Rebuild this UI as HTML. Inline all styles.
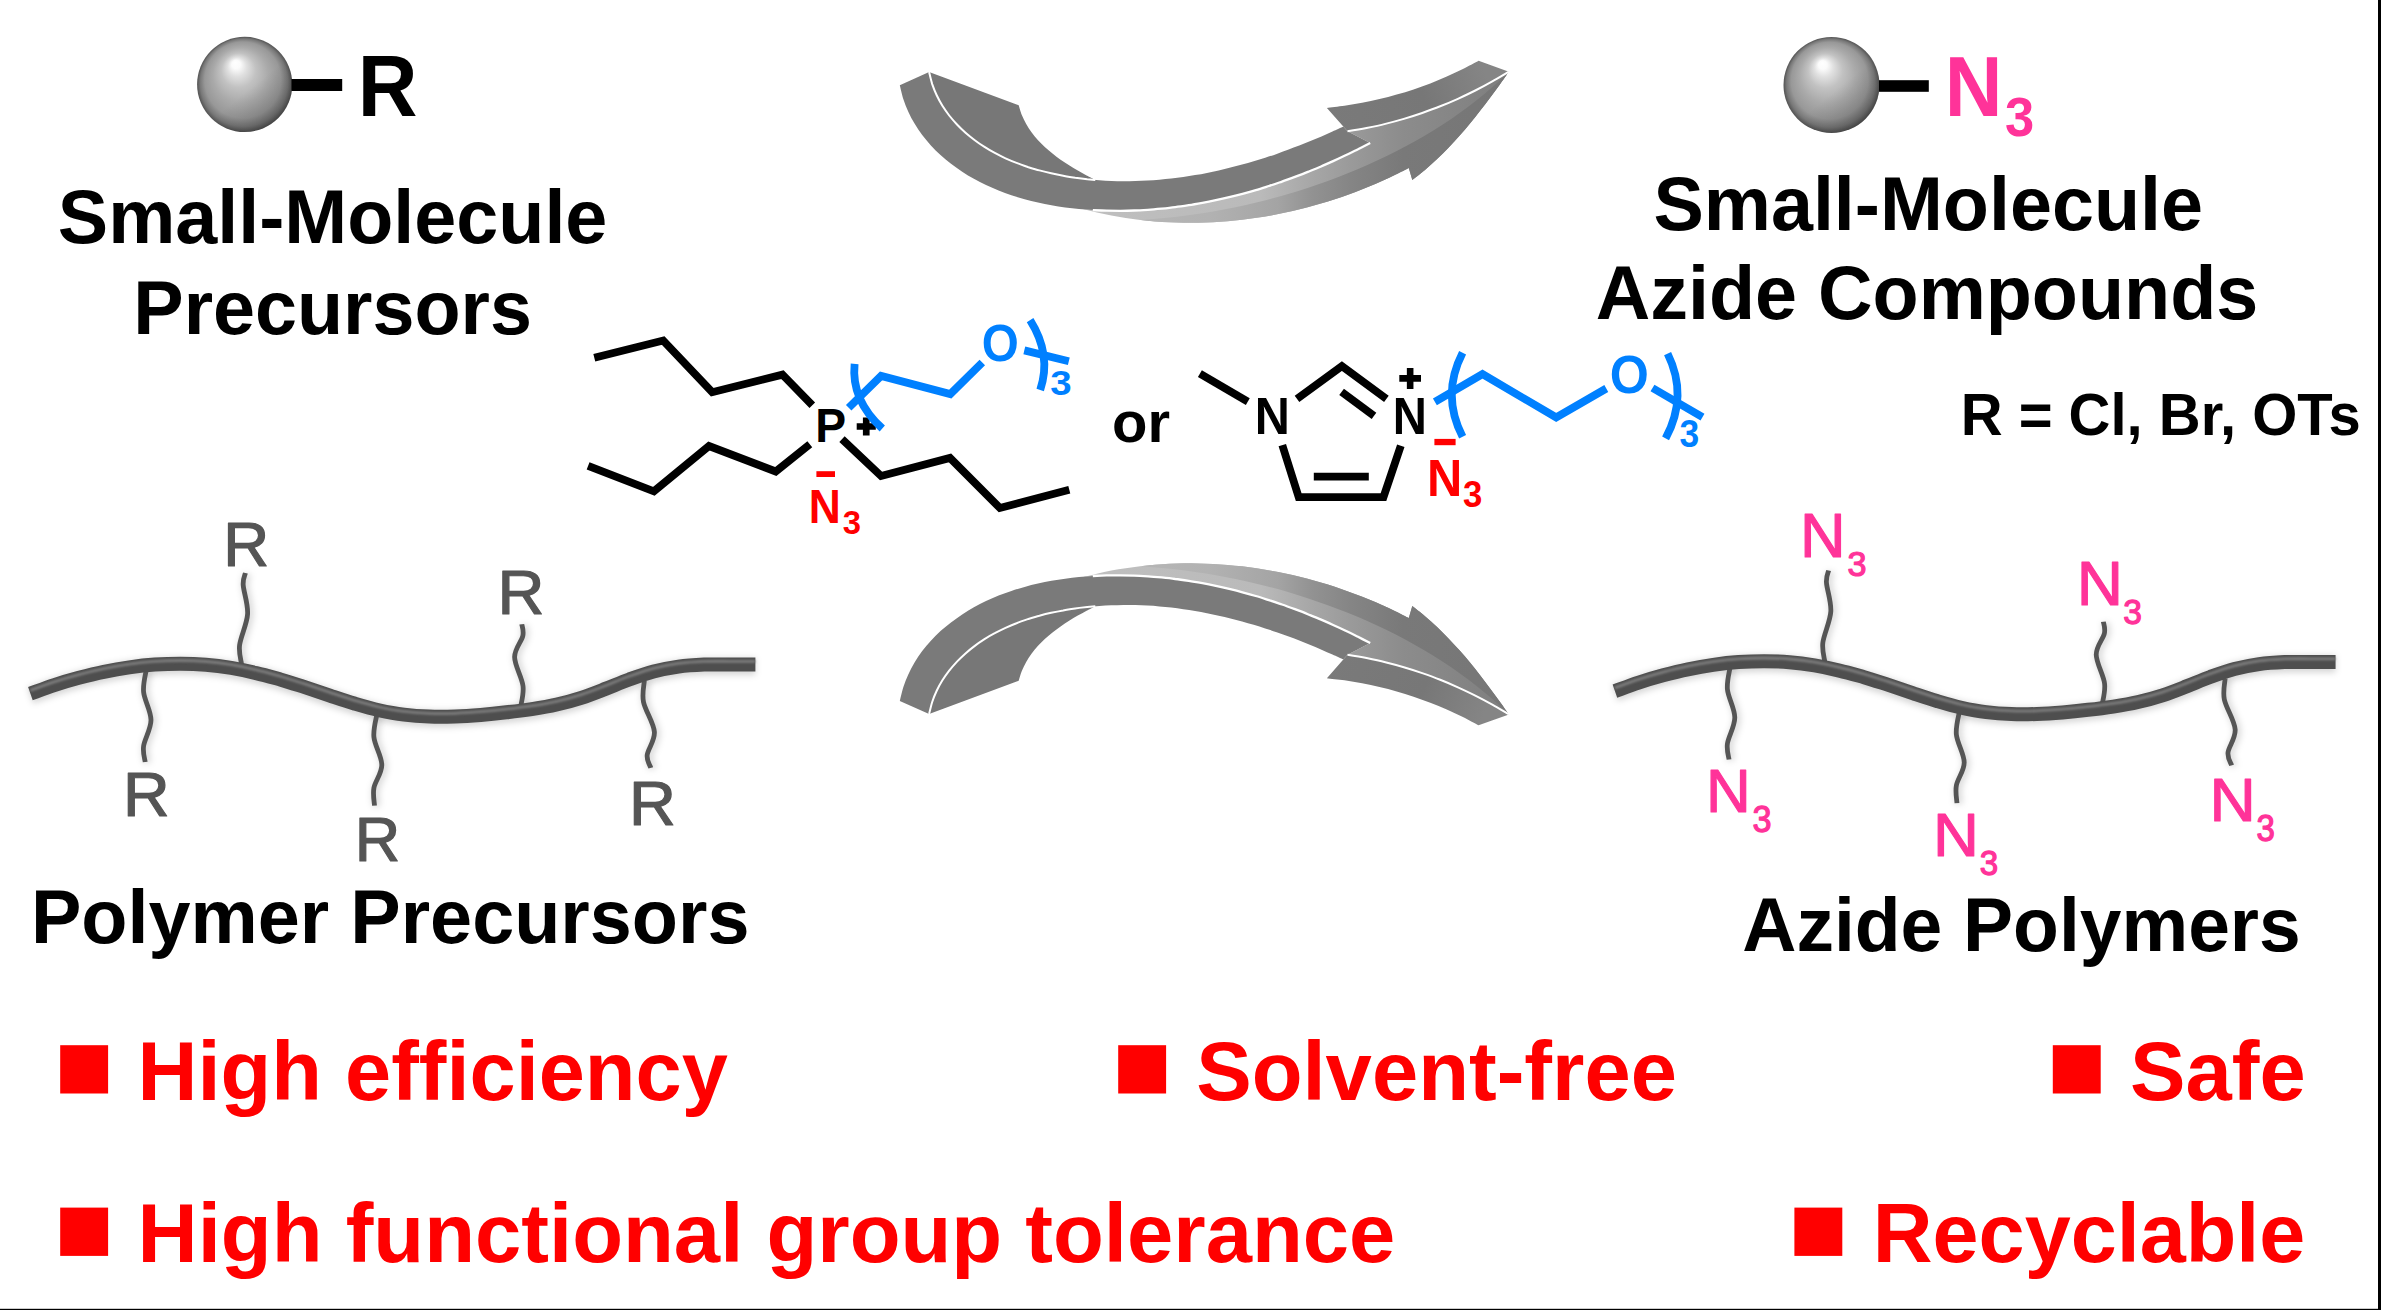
<!DOCTYPE html>
<html>
<head>
<meta charset="utf-8">
<title>Azidation graphical abstract</title>
<style>
html,body{margin:0;padding:0;background:#fff;}
body{width:2381px;height:1310px;overflow:hidden;position:relative;font-family:"Liberation Sans",sans-serif;}
svg{position:absolute;left:0;top:0;display:block;}
text{font-family:"Liberation Sans",sans-serif;}
.bond{fill:none;stroke:#000;stroke-width:7.8;stroke-linejoin:miter;stroke-linecap:butt;}
.bbond{fill:none;stroke:#0080ff;stroke-width:7.8;stroke-linejoin:miter;stroke-linecap:butt;}
</style>
</head>
<body>
<svg width="2381" height="1310" viewBox="0 0 2381 1310">
<defs>
  <radialGradient id="sph" cx="0.5" cy="0.5" r="0.5" fx="0.40" fy="0.27">
    <stop offset="0" stop-color="#ffffff"/>
    <stop offset="0.09" stop-color="#fbfbfb"/>
    <stop offset="0.20" stop-color="#e0e0e0"/>
    <stop offset="0.36" stop-color="#c2c2c2"/>
    <stop offset="0.58" stop-color="#aaaaaa"/>
    <stop offset="0.80" stop-color="#989898"/>
    <stop offset="0.92" stop-color="#787878"/>
    <stop offset="1" stop-color="#525252"/>
  </radialGradient>
  <linearGradient id="sphsh" x1="0.2" y1="0.1" x2="0.85" y2="0.9">
    <stop offset="0" stop-color="#000" stop-opacity="0"/>
    <stop offset="0.55" stop-color="#000" stop-opacity="0"/>
    <stop offset="1" stop-color="#000" stop-opacity="0.20"/>
  </linearGradient>
</defs>
<rect x="2378" y="0" width="3" height="1310" fill="#000"/>
<rect x="0" y="1308.8" width="2381" height="1.2" fill="#000"/>

<g id="spheres">
  <circle cx="244.7" cy="84.4" r="47.6" fill="url(#sph)"/>
  <circle cx="244.7" cy="84.4" r="47.6" fill="url(#sphsh)"/>
  <rect x="291.5" y="79" width="50.7" height="12" fill="#000"/>
  <circle cx="1831.5" cy="85" r="48" fill="url(#sph)"/>
  <circle cx="1831.5" cy="85" r="48" fill="url(#sphsh)"/>
  <rect x="1879" y="80.2" width="49.8" height="11.6" fill="#000"/>
</g>
<g id="headings">
<text transform="translate(357.87,115.50) scale(1,1.0457)" font-size="82.71" font-weight="700" fill="#000" >R</text>
<text transform="translate(332.6,242.8) scale(1,1.012)" font-size="75.5" font-weight="700" fill="#000" text-anchor="middle" >Small-Molecule</text>
<text transform="translate(332.6,333.5) scale(1,1.012)" font-size="75.5" font-weight="700" fill="#000" text-anchor="middle" >Precursors</text>
<text transform="translate(1928.2,229.8) scale(1,1.012)" font-size="75.5" font-weight="700" fill="#000" text-anchor="middle" >Small-Molecule</text>
<text transform="translate(1927,319) scale(1,1.012)" font-size="75.5" font-weight="700" fill="#000" text-anchor="middle" >Azide Compounds</text>
<text transform="translate(2160.7,435) scale(1,1.012)" font-size="58" font-weight="700" fill="#000" text-anchor="middle" >R = Cl, Br, OTs</text>
<text transform="translate(390.2,943) scale(1,1.012)" font-size="75.6" font-weight="700" fill="#000" text-anchor="middle" >Polymer Precursors</text>
<text transform="translate(2021.5,951) scale(1,1.012)" font-size="75" font-weight="700" fill="#000" text-anchor="middle" >Azide Polymers</text>
<text x="1141" y="441.8" font-size="58" font-weight="700" fill="#000" text-anchor="middle" >or</text>
<text transform="translate(1944.65,116.00) scale(1,1.0690)" font-size="79.95" font-weight="700" fill="#ff3399" >N</text>
<text transform="translate(2004.99,135.77) scale(1,1.0737)" font-size="52.51" font-weight="700" fill="#ff3399" >3</text>
</g>
<g id="features">
<rect x="60.2" y="1045.2" width="47.9" height="48.3" fill="#ff0000"/>
<rect x="1118.2" y="1045.2" width="47.9" height="48.3" fill="#ff0000"/>
<rect x="2052.8" y="1045.2" width="47.9" height="48.3" fill="#ff0000"/>
<rect x="60.2" y="1207.6" width="47.9" height="48.3" fill="#ff0000"/>
<rect x="1794.4" y="1207.6" width="47.9" height="48.3" fill="#ff0000"/>
<text transform="translate(137.6,1099.5) scale(1,1.012)" font-size="83" font-weight="700" fill="#ff0000" text-anchor="start" >High efficiency</text>
<text transform="translate(1196.2,1099.5) scale(1,1.012)" font-size="83.2" font-weight="700" fill="#ff0000" text-anchor="start" >Solvent-free</text>
<text transform="translate(2130,1099.5) scale(1,1.012)" font-size="83.2" font-weight="700" fill="#ff0000" text-anchor="start" >Safe</text>
<text transform="translate(137.6,1262.2) scale(1,1.012)" font-size="83.24" font-weight="700" fill="#ff0000" text-anchor="start" >High functional group tolerance</text>
<text transform="translate(1872.8,1262.2) scale(1,1.012)" font-size="82.8" font-weight="700" fill="#ff0000" text-anchor="start" >Recyclable</text>
</g>
<g id="phosphonium">
  <polyline class="bond" points="594.3,357.8 663.2,340.5 712.2,392.2 782.4,374.6 812.3,405.3"/>
  <polyline class="bond" points="588.1,465.8 653.9,491.3 709,446 775.7,471.5 809.8,444.3"/>
  <polyline class="bond" points="842,439.1 881.1,476 950,457.9 999.9,508 1069.3,489.8"/>
  <path d="M856.7,426.5H875.8M866.25,417.6V435.5" stroke="#000" stroke-width="6.7" fill="none"/>
  <rect fill="#ff0000" x="816.4" y="471.2" width="18.6" height="5.8"/>
  <polyline class="bbond" points="848.7,407.8 881.1,375.9 950.3,394.1 982.3,362.5"/>
  <path class="bbond" d="M854.6,363.8 Q851,400 882.3,428.5"/>
  <path class="bbond" d="M1024.3,350.4 L1068.8,361.3"/>
  <path class="bbond" d="M1030.1,320.2 Q1052,355 1040.2,389.9"/>
<text transform="translate(815.20,441.80) scale(1,1.0266)" font-size="46.30" font-weight="700" fill="#000" >P</text>
<text transform="translate(808.83,523.30) scale(1,1.0739)" font-size="44.40" font-weight="700" fill="#ff0000" >N</text>
<text transform="translate(842.65,533.83) scale(1,1.0101)" font-size="32.79" font-weight="700" fill="#ff0000" >3</text>
<text transform="translate(981.65,360.80) scale(1,1.0703)" font-size="47.64" font-weight="700" fill="#0080ff" >O</text>
<text transform="translate(1050.32,395.00) scale(1,0.9354)" font-size="38.43" font-weight="700" fill="#0080ff" >3</text>
</g>
<g id="imidazolium">
  <path class="bond" d="M1199.9,373.7 L1247.8,401.7"/>
  <polyline class="bond" points="1297,398.9 1341.9,366.1 1386.4,398.9"/>
  <path class="bond" d="M1341.6,391.8 L1374,415.8"/>
  <polyline class="bond" points="1282.3,445.1 1298.7,497.1 1383.5,497.1 1400.8,445.7"/>
  <path class="bond" d="M1313.8,476.6 H1368.8"/>
  <path d="M1399.3,378.4H1421M1410.15,367.9V388.9" stroke="#000" stroke-width="6.6" fill="none"/>
  <rect fill="#ff0000" x="1434.4" y="438.9" width="21.2" height="6.3"/>
  <polyline class="bbond" points="1434.9,401.8 1482.5,374.1 1556.2,417.4 1606.3,388.5"/>
  <path class="bbond" d="M1462.6,352.8 Q1441,395 1462.6,436.8"/>
  <path class="bbond" d="M1652.5,388 L1702.5,417.1"/>
  <path class="bbond" d="M1667.6,353.6 Q1688.5,396 1665.6,438.4"/>
<text transform="translate(1254.65,433.60) scale(1,1.0637)" font-size="48.65" font-weight="700" fill="#000" >N</text>
<text transform="translate(1392.74,433.90) scale(1,1.0850)" font-size="47.29" font-weight="700" fill="#000" >N</text>
<text transform="translate(1426.93,496.10) scale(1,1.0510)" font-size="48.82" font-weight="700" fill="#ff0000" >N</text>
<text transform="translate(1463.00,506.88) scale(1,1.0692)" font-size="34.80" font-weight="700" fill="#ff0000" >3</text>
<text transform="translate(1609.64,392.87) scale(1,1.0826)" font-size="50.23" font-weight="700" fill="#0080ff" >O</text>
<text transform="translate(1679.39,447.27) scale(1,1.0708)" font-size="35.41" font-weight="700" fill="#0080ff" >3</text>
</g>
<defs>
  <linearGradient id="agL" gradientUnits="userSpaceOnUse" x1="1080" y1="0" x2="1510" y2="0">
    <stop offset="0" stop-color="#bfbfbf"/><stop offset="0.42" stop-color="#bababa"/><stop offset="0.53" stop-color="#a8a8a8"/><stop offset="0.63" stop-color="#9a9a9a"/><stop offset="0.75" stop-color="#8c8c8c"/><stop offset="0.88" stop-color="#858585"/><stop offset="1" stop-color="#7e7e7e"/>
  </linearGradient>
  <linearGradient id="agD" gradientUnits="userSpaceOnUse" x1="1080" y1="0" x2="1510" y2="0">
    <stop offset="0" stop-color="#b8b8b8"/><stop offset="0.30" stop-color="#b2b2b2"/><stop offset="0.46" stop-color="#a4a4a4"/><stop offset="0.54" stop-color="#929292"/><stop offset="0.63" stop-color="#858585"/><stop offset="0.75" stop-color="#797979"/><stop offset="1" stop-color="#767676"/>
  </linearGradient>
  <linearGradient id="agH" gradientUnits="userSpaceOnUse" x1="1330" y1="130" x2="1480" y2="62">
    <stop offset="0" stop-color="#7a7a7a"/><stop offset="0.6" stop-color="#777777"/><stop offset="1" stop-color="#858585"/>
  </linearGradient>
  <g id="arrow3d">
    <path d="M929.1,72.1 L1018.7,105.3 C1019.2,106.9 1020.6,111.9 1021.8,115.0 C1023.1,118.1 1024.6,121.1 1026.2,124.0 C1027.8,126.9 1029.6,129.7 1031.5,132.3 C1033.5,135.0 1035.6,137.5 1037.8,140.0 C1040.0,142.5 1042.4,144.8 1044.8,147.1 C1047.3,149.4 1049.8,151.5 1052.5,153.6 C1055.1,155.7 1057.8,157.8 1060.6,159.7 C1063.4,161.6 1066.2,163.5 1069.1,165.3 C1072.0,167.1 1074.9,168.8 1077.8,170.5 C1080.7,172.2 1083.7,173.8 1086.6,175.4 C1089.5,176.9 1093.8,179.1 1095.3,179.9 L1085.2,182.2 C1083.2,181.9 1077.2,181.2 1073.2,180.7 C1069.2,180.1 1065.2,179.5 1061.2,178.7 C1057.2,178.0 1053.2,177.2 1049.2,176.3 C1045.3,175.5 1041.3,174.5 1037.4,173.4 C1033.5,172.4 1029.7,171.2 1025.8,170.0 C1022.0,168.7 1018.2,167.4 1014.5,165.9 C1010.8,164.5 1007.1,162.9 1003.5,161.3 C999.8,159.6 996.3,157.8 992.8,155.9 C989.3,154.1 985.9,152.1 982.5,149.9 C979.2,147.8 975.9,145.6 972.8,143.2 C969.6,140.8 966.5,138.3 963.5,135.7 C960.6,133.1 957.7,130.4 955.0,127.5 C952.3,124.6 949.7,121.6 947.2,118.5 C944.8,115.4 942.5,112.1 940.4,108.8 C938.3,105.4 936.4,101.9 934.7,98.3 C933.0,94.7 931.5,90.9 930.2,87.1 C929.0,83.2 927.6,77.1 927.1,75.1 Z" fill="#777777"/>
    <path d="M1092.8,210.1 C1095.1,210.2 1102.0,210.5 1106.6,210.7 C1111.2,210.8 1115.8,210.8 1120.4,210.8 C1125.0,210.8 1129.6,210.7 1134.2,210.5 C1138.8,210.4 1143.4,210.1 1147.9,209.8 C1152.5,209.5 1157.1,209.1 1161.6,208.7 C1166.2,208.2 1170.7,207.7 1175.2,207.1 C1179.8,206.6 1184.3,205.9 1188.8,205.2 C1193.4,204.5 1197.9,203.7 1202.4,202.9 C1206.9,202.1 1211.3,201.2 1215.8,200.2 C1220.3,199.3 1224.8,198.3 1229.2,197.2 C1233.7,196.1 1238.1,195.0 1242.5,193.8 C1247.0,192.6 1251.4,191.4 1255.8,190.1 C1260.2,188.8 1264.5,187.4 1268.9,186.0 C1273.3,184.6 1277.6,183.1 1282.0,181.6 C1286.3,180.1 1290.6,178.5 1294.9,176.9 C1299.2,175.3 1303.5,173.7 1307.8,171.9 C1312.0,170.2 1316.3,168.5 1320.5,166.7 C1324.7,164.9 1328.9,163.0 1333.1,161.1 C1337.3,159.3 1341.5,157.3 1345.6,155.3 C1349.7,153.4 1353.9,151.3 1358.0,149.3 C1362.1,147.2 1368.2,144.0 1370.2,143.0 L1347.5,131.3 L1347.5,131.3 C1350.7,130.8 1360.2,129.3 1366.5,128.1 C1372.8,126.8 1379.0,125.5 1385.3,123.9 C1391.5,122.4 1397.7,120.7 1403.8,118.9 C1410.0,117.1 1416.1,115.1 1422.2,113.0 C1428.2,110.9 1434.3,108.7 1440.2,106.3 C1446.2,103.9 1452.1,101.4 1457.9,98.8 C1463.8,96.1 1469.6,93.4 1475.3,90.5 C1481.1,87.6 1486.7,84.6 1492.3,81.4 C1497.9,78.3 1506.1,73.3 1508.9,71.7 L1508.9,71.7 C1507.3,73.9 1502.7,80.5 1499.5,84.9 C1496.3,89.2 1493.2,93.6 1489.9,97.9 C1486.7,102.2 1483.4,106.6 1480.1,110.8 C1476.8,115.1 1473.4,119.3 1470.0,123.5 C1466.6,127.6 1463.1,131.8 1459.5,135.8 C1455.9,139.8 1452.3,143.8 1448.5,147.7 C1444.8,151.6 1441.0,155.4 1437.1,159.1 C1433.1,162.8 1429.1,166.4 1425.0,169.9 C1420.9,173.4 1414.4,178.3 1412.3,180.0 L1408.8,168.0 C1406.6,169.1 1400.2,172.4 1395.8,174.6 C1391.4,176.7 1387.0,178.8 1382.5,180.8 C1378.1,182.7 1373.6,184.7 1369.1,186.5 C1364.6,188.4 1360.1,190.2 1355.5,191.9 C1351.0,193.7 1346.4,195.3 1341.8,196.9 C1337.2,198.5 1332.5,200.0 1327.9,201.5 C1323.2,202.9 1318.5,204.3 1313.8,205.6 C1309.1,206.9 1304.4,208.2 1299.7,209.3 C1294.9,210.5 1290.2,211.6 1285.4,212.6 C1280.6,213.6 1275.9,214.6 1271.1,215.4 C1266.3,216.3 1261.5,217.1 1256.6,217.8 C1251.8,218.5 1247.0,219.2 1242.1,219.8 C1237.3,220.3 1232.5,220.8 1227.6,221.2 C1222.8,221.6 1217.9,222.0 1213.0,222.2 C1208.2,222.5 1203.3,222.6 1198.4,222.7 C1193.6,222.8 1188.7,222.8 1183.8,222.8 C1179.0,222.7 1174.1,222.5 1169.3,222.3 C1164.4,222.1 1159.5,221.8 1154.7,221.4 C1149.8,221.0 1145.0,220.5 1140.2,219.9 C1135.3,219.3 1130.5,218.7 1125.7,217.9 C1120.9,217.2 1116.1,216.4 1111.3,215.5 C1106.5,214.5 1101.7,213.5 1096.9,212.4 C1092.2,211.3 1085.1,209.5 1082.7,208.9 Z" fill="url(#agL)"/>
    <path d="M1140.6,219.9 C1144.1,219.6 1154.7,218.9 1161.8,218.2 C1168.8,217.6 1175.9,216.8 1182.9,215.9 C1190.0,215.0 1197.0,214.0 1204.0,212.9 C1211.0,211.8 1218.1,210.6 1225.0,209.2 C1232.0,207.9 1239.0,206.5 1245.9,204.9 C1252.9,203.4 1259.8,201.7 1266.7,199.9 C1273.6,198.1 1280.4,196.2 1287.2,194.3 C1294.1,192.3 1300.9,190.1 1307.6,187.9 C1314.4,185.7 1321.1,183.4 1327.8,180.9 C1334.5,178.5 1341.1,175.9 1347.7,173.3 C1354.3,170.6 1360.9,167.8 1367.3,165.0 C1373.8,162.1 1380.3,159.1 1386.7,156.0 C1393.1,152.9 1399.4,149.6 1405.7,146.3 C1411.9,142.9 1418.1,139.5 1424.2,135.9 C1430.4,132.3 1436.4,128.6 1442.4,124.7 C1448.3,120.9 1454.2,116.9 1459.9,112.7 C1465.7,108.6 1471.4,104.4 1476.9,99.9 C1482.5,95.5 1487.9,91.0 1493.3,86.3 C1498.6,81.6 1506.3,74.1 1508.9,71.7 L1508.9,71.7 C1507.3,73.9 1502.7,80.5 1499.5,84.9 C1496.3,89.2 1493.2,93.6 1489.9,97.9 C1486.7,102.2 1483.4,106.6 1480.1,110.8 C1476.8,115.1 1473.4,119.3 1470.0,123.5 C1466.6,127.6 1463.1,131.8 1459.5,135.8 C1455.9,139.8 1452.3,143.8 1448.5,147.7 C1444.8,151.6 1441.0,155.4 1437.1,159.1 C1433.1,162.8 1429.1,166.4 1425.0,169.9 C1420.9,173.4 1414.4,178.3 1412.3,180.0 L1408.8,168.0 C1406.6,169.1 1400.2,172.4 1395.8,174.6 C1391.4,176.7 1387.0,178.8 1382.5,180.8 C1378.1,182.7 1373.6,184.7 1369.1,186.5 C1364.6,188.4 1360.1,190.2 1355.5,191.9 C1351.0,193.7 1346.4,195.3 1341.8,196.9 C1337.2,198.5 1332.5,200.0 1327.9,201.5 C1323.2,202.9 1318.5,204.3 1313.8,205.6 C1309.1,206.9 1304.4,208.2 1299.7,209.3 C1294.9,210.5 1290.2,211.6 1285.4,212.6 C1280.6,213.6 1275.9,214.6 1271.1,215.4 C1266.3,216.3 1261.5,217.1 1256.6,217.8 C1251.8,218.5 1247.0,219.2 1242.1,219.8 C1237.3,220.3 1232.5,220.8 1227.6,221.2 C1222.8,221.6 1217.9,222.0 1213.0,222.2 C1208.2,222.5 1203.3,222.6 1198.4,222.7 C1193.6,222.8 1188.7,222.8 1183.8,222.8 C1179.0,222.7 1174.1,222.5 1169.3,222.3 C1164.4,222.1 1159.5,221.8 1154.7,221.4 C1149.8,221.0 1142.6,220.1 1140.2,219.9 Z" fill="url(#agD)"/>
    <path d="M1326.9,107.9 C1329.8,107.5 1338.7,106.6 1344.5,105.8 C1350.4,104.9 1356.3,103.9 1362.1,102.8 C1367.9,101.7 1373.7,100.5 1379.5,99.1 C1385.2,97.8 1391.0,96.3 1396.7,94.6 C1402.3,93.0 1408.0,91.3 1413.6,89.4 C1419.2,87.5 1424.8,85.5 1430.3,83.4 C1435.9,81.3 1441.3,79.0 1446.8,76.6 C1452.2,74.2 1457.6,71.7 1462.9,69.1 C1468.2,66.4 1476.0,62.2 1478.6,60.8 L1508.9,71.7 L1508.9,71.7 C1506.1,73.3 1497.9,78.3 1492.3,81.4 C1486.7,84.6 1481.1,87.6 1475.3,90.5 C1469.6,93.4 1463.8,96.1 1457.9,98.8 C1452.1,101.4 1446.2,103.9 1440.2,106.3 C1434.3,108.7 1428.2,110.9 1422.2,113.0 C1416.1,115.1 1410.0,117.1 1403.8,118.9 C1397.7,120.7 1391.5,122.4 1385.3,123.9 C1379.0,125.5 1372.8,126.8 1366.5,128.1 C1360.2,129.3 1350.7,130.8 1347.5,131.3 L1343.3,126.5 Z" fill="url(#agH)"/>
    <path d="M899.8,85.2 C900.4,87.5 901.9,94.4 903.3,98.9 C904.7,103.3 906.4,107.6 908.3,111.7 C910.2,115.9 912.3,119.9 914.7,123.8 C917.0,127.6 919.5,131.4 922.2,135.0 C925.0,138.6 927.9,142.1 930.9,145.4 C934.0,148.7 937.2,151.9 940.5,155.0 C943.9,158.0 947.4,160.9 951.0,163.7 C954.6,166.5 958.4,169.2 962.2,171.7 C966.0,174.2 969.9,176.5 973.9,178.8 C977.9,181.0 981.9,183.1 986.0,185.0 C990.2,187.0 994.3,188.8 998.6,190.5 C1002.8,192.2 1007.1,193.8 1011.4,195.2 C1015.8,196.7 1020.2,198.0 1024.6,199.2 C1029.0,200.5 1033.5,201.6 1038.0,202.6 C1042.5,203.6 1047.0,204.5 1051.5,205.3 C1056.1,206.1 1060.6,206.8 1065.2,207.4 C1069.8,208.0 1074.4,208.5 1079.0,209.0 C1083.6,209.4 1088.2,209.8 1092.8,210.1 C1097.4,210.3 1102.0,210.5 1106.6,210.7 C1111.2,210.8 1115.8,210.8 1120.4,210.8 C1125.0,210.8 1129.6,210.7 1134.2,210.5 C1138.8,210.4 1143.4,210.1 1147.9,209.8 C1152.5,209.5 1157.1,209.1 1161.6,208.7 C1166.2,208.2 1170.7,207.7 1175.2,207.1 C1179.8,206.6 1184.3,205.9 1188.8,205.2 C1193.4,204.5 1197.9,203.7 1202.4,202.9 C1206.9,202.1 1211.3,201.2 1215.8,200.2 C1220.3,199.3 1224.8,198.3 1229.2,197.2 C1233.7,196.1 1238.1,195.0 1242.5,193.8 C1247.0,192.6 1251.4,191.4 1255.8,190.1 C1260.2,188.8 1264.5,187.4 1268.9,186.0 C1273.3,184.6 1277.6,183.1 1282.0,181.6 C1286.3,180.1 1290.6,178.5 1294.9,176.9 C1299.2,175.3 1303.5,173.7 1307.8,171.9 C1312.0,170.2 1316.3,168.5 1320.5,166.7 C1324.7,164.9 1328.9,163.0 1333.1,161.1 C1337.3,159.3 1341.5,157.3 1345.6,155.3 C1349.7,153.4 1353.9,151.3 1358.0,149.3 C1362.1,147.2 1368.2,144.0 1370.2,143.0 L1347.5,131.3 L1343.3,126.5 L1343.3,126.5 C1341.5,127.3 1336.1,129.9 1332.5,131.5 C1328.8,133.2 1325.2,134.8 1321.5,136.4 C1317.8,138.0 1314.1,139.5 1310.4,141.1 C1306.7,142.6 1303.0,144.1 1299.3,145.6 C1295.5,147.0 1291.8,148.4 1288.0,149.8 C1284.2,151.2 1280.5,152.6 1276.7,153.9 C1272.9,155.2 1269.1,156.5 1265.2,157.7 C1261.4,158.9 1257.6,160.1 1253.7,161.3 C1249.9,162.4 1246.0,163.5 1242.1,164.6 C1238.2,165.7 1234.4,166.7 1230.5,167.6 C1226.6,168.6 1222.7,169.5 1218.7,170.4 C1214.8,171.3 1210.9,172.1 1207.0,172.9 C1203.0,173.7 1199.1,174.4 1195.1,175.1 C1191.2,175.8 1187.2,176.4 1183.3,176.9 C1179.3,177.5 1175.3,178.0 1171.3,178.5 C1167.4,178.9 1163.4,179.3 1159.4,179.7 C1155.4,180.0 1151.4,180.3 1147.4,180.5 C1143.4,180.8 1139.4,180.9 1135.4,181.0 C1131.4,181.1 1127.4,181.2 1123.4,181.2 C1119.4,181.1 1115.3,181.0 1111.3,180.9 C1107.3,180.7 1103.3,180.5 1099.3,180.2 C1095.3,179.9 1091.2,179.6 1087.2,179.2 C1083.2,178.7 1079.2,178.2 1075.2,177.7 C1071.2,177.1 1067.2,176.5 1063.2,175.7 C1059.2,175.0 1055.2,174.2 1051.2,173.3 C1047.3,172.5 1043.3,171.5 1039.4,170.4 C1035.5,169.4 1031.7,168.2 1027.8,167.0 C1024.0,165.7 1020.2,164.4 1016.5,162.9 C1012.8,161.5 1009.1,159.9 1005.5,158.3 C1001.8,156.6 998.3,154.8 994.8,152.9 C991.3,151.1 987.9,149.1 984.5,146.9 C981.2,144.8 977.9,142.6 974.8,140.2 C971.6,137.8 968.5,135.3 965.5,132.7 C962.6,130.1 959.7,127.4 957.0,124.5 C954.3,121.6 951.7,118.6 949.2,115.5 C946.8,112.4 944.5,109.1 942.4,105.8 C940.3,102.4 938.4,98.9 936.7,95.3 C935.0,91.7 933.5,87.9 932.2,84.1 C931.0,80.2 929.6,74.1 929.1,72.1 Z" fill="#7a7a7a"/>
    <path d="M929.1,72.1 C929.6,74.1 931.0,80.2 932.2,84.1 C933.5,87.9 935.0,91.7 936.7,95.3 C938.4,98.9 940.3,102.4 942.4,105.8 C944.5,109.1 946.8,112.4 949.2,115.5 C951.7,118.6 954.3,121.6 957.0,124.5 C959.7,127.4 962.6,130.1 965.5,132.7 C968.5,135.3 971.6,137.8 974.8,140.2 C977.9,142.6 981.2,144.8 984.5,146.9 C987.9,149.1 991.3,151.1 994.8,152.9 C998.3,154.8 1001.8,156.6 1005.5,158.3 C1009.1,159.9 1012.8,161.5 1016.5,162.9 C1020.2,164.4 1024.0,165.7 1027.8,167.0 C1031.7,168.2 1035.5,169.4 1039.4,170.4 C1043.3,171.5 1047.3,172.5 1051.2,173.3 C1055.2,174.2 1059.2,175.0 1063.2,175.7 C1067.2,176.5 1071.2,177.1 1075.2,177.7 C1079.2,178.2 1083.9,178.8 1087.2,179.2 C1090.6,179.5 1094.0,179.8 1095.3,179.9" fill="none" stroke="#fff" stroke-width="2"/>
    <path d="M1092.8,210.1 C1095.1,210.2 1102.0,210.5 1106.6,210.7 C1111.2,210.8 1115.8,210.8 1120.4,210.8 C1125.0,210.8 1129.6,210.7 1134.2,210.5 C1138.8,210.4 1143.4,210.1 1147.9,209.8 C1152.5,209.5 1157.1,209.1 1161.6,208.7 C1166.2,208.2 1170.7,207.7 1175.2,207.1 C1179.8,206.6 1184.3,205.9 1188.8,205.2 C1193.4,204.5 1197.9,203.7 1202.4,202.9 C1206.9,202.1 1211.3,201.2 1215.8,200.2 C1220.3,199.3 1224.8,198.3 1229.2,197.2 C1233.7,196.1 1238.1,195.0 1242.5,193.8 C1247.0,192.6 1251.4,191.4 1255.8,190.1 C1260.2,188.8 1264.5,187.4 1268.9,186.0 C1273.3,184.6 1277.6,183.1 1282.0,181.6 C1286.3,180.1 1290.6,178.5 1294.9,176.9 C1299.2,175.3 1303.5,173.7 1307.8,171.9 C1312.0,170.2 1316.3,168.5 1320.5,166.7 C1324.7,164.9 1328.9,163.0 1333.1,161.1 C1337.3,159.3 1341.5,157.3 1345.6,155.3 C1349.7,153.4 1353.9,151.3 1358.0,149.3 C1362.1,147.2 1368.2,144.0 1370.2,143.0" fill="none" stroke="#fff" stroke-width="2.3"/>
    <path d="M1347.5,131.3 C1350.7,130.8 1360.2,129.3 1366.5,128.1 C1372.8,126.8 1379.0,125.5 1385.3,123.9 C1391.5,122.4 1397.7,120.7 1403.8,118.9 C1410.0,117.1 1416.1,115.1 1422.2,113.0 C1428.2,110.9 1434.3,108.7 1440.2,106.3 C1446.2,103.9 1452.1,101.4 1457.9,98.8 C1463.8,96.1 1469.6,93.4 1475.3,90.5 C1481.1,87.6 1486.7,84.6 1492.3,81.4 C1497.9,78.3 1506.1,73.3 1508.9,71.7" fill="none" stroke="#fff" stroke-width="2"/>
  </g>
</defs>
<use href="#arrow3d"/>
<use href="#arrow3d" transform="translate(0,786.1) scale(1,-1)"/>

<defs>
  <filter id="pblur" x="-5%" y="-50%" width="110%" height="200%"><feGaussianBlur stdDeviation="3"/></filter>
  <filter id="hblur" x="-5%" y="-50%" width="110%" height="200%"><feGaussianBlur stdDeviation="1"/></filter>
  <g id="poly">
    <path d="M30.4,693.6 C34.4,692.2 46.3,687.7 54.3,685.1 C62.4,682.4 70.6,680.0 78.9,677.8 C87.2,675.6 95.5,673.5 103.9,671.8 C112.3,670.1 120.8,668.6 129.3,667.4 C137.8,666.2 146.3,665.2 154.8,664.6 C163.4,664.0 171.9,663.7 180.4,663.7 C188.9,663.7 197.5,664.0 205.9,664.7 C214.4,665.4 222.8,666.5 231.2,667.9 C239.6,669.3 247.9,671.1 256.2,673.1 C264.5,675.0 272.7,677.4 281.0,679.7 C289.2,682.1 297.3,684.8 305.5,687.4 C313.7,690.1 321.8,692.9 329.9,695.6 C338.0,698.3 346.1,701.1 354.3,703.5 C362.5,705.9 370.6,708.3 378.9,710.2 C387.1,712.0 395.5,713.6 403.9,714.6 C412.3,715.7 420.8,716.3 429.3,716.6 C437.8,716.9 446.4,716.8 455.0,716.5 C463.5,716.2 472.2,715.6 480.7,714.9 C489.3,714.2 497.9,713.3 506.4,712.3 C514.9,711.4 523.4,710.4 531.8,709.1 C540.2,707.8 548.6,706.4 556.8,704.5 C565.1,702.6 573.3,700.4 581.3,697.8 C589.4,695.2 597.4,692.0 605.4,688.9 C613.4,685.8 621.3,682.4 629.3,679.5 C637.3,676.6 645.4,673.6 653.6,671.5 C661.8,669.4 670.1,667.8 678.5,666.6 C686.9,665.5 695.5,665.0 704.1,664.6 C712.6,664.3 721.3,664.5 729.8,664.5 C738.4,664.5 751.1,664.5 755.4,664.5" fill="none" stroke="#000" stroke-opacity="0.16" stroke-width="17" filter="url(#pblur)" transform="translate(0,2)"/>
    <path d="M241.5,664.0 C241.2,660.8 238.6,653.3 239.6,645.0 C240.6,636.7 247.0,624.0 247.6,614.0 C248.2,604.0 243.6,591.8 243.2,585.0 C242.8,578.2 245.0,575.0 245.4,573.0 M520.6,707.0 C521.0,703.5 524.0,694.3 523.0,686.0 C522.0,677.7 514.6,665.3 514.6,657.0 C514.6,648.7 521.6,641.5 522.8,636.0 C524.0,630.5 522.0,626.2 521.8,624.2 M146.2,670.0 C145.8,673.7 142.8,683.7 143.6,692.0 C144.4,700.3 151.0,711.0 151.0,720.0 C151.0,729.0 144.6,739.0 143.6,746.0 C142.6,753.0 144.9,759.3 145.2,762.0 M377.2,713.0 C376.6,717.0 373.1,728.3 373.9,737.0 C374.7,745.7 381.8,756.5 381.8,765.0 C381.8,773.5 375.1,781.2 373.9,788.0 C372.7,794.8 374.4,802.7 374.5,805.6 M644.3,681.0 C644.2,684.5 641.8,693.5 643.5,702.0 C645.2,710.5 653.8,723.2 654.4,732.0 C655.0,740.8 647.8,749.0 647.2,755.0 C646.6,761.0 650.2,765.7 650.8,767.8" fill="none" stroke="#000" stroke-opacity="0.14" stroke-width="8" filter="url(#pblur)" transform="translate(2,1)"/>
    <path d="M241.5,664.0 C241.2,660.8 238.6,653.3 239.6,645.0 C240.6,636.7 247.0,624.0 247.6,614.0 C248.2,604.0 243.6,591.8 243.2,585.0 C242.8,578.2 245.0,575.0 245.4,573.0 M520.6,707.0 C521.0,703.5 524.0,694.3 523.0,686.0 C522.0,677.7 514.6,665.3 514.6,657.0 C514.6,648.7 521.6,641.5 522.8,636.0 C524.0,630.5 522.0,626.2 521.8,624.2 M146.2,670.0 C145.8,673.7 142.8,683.7 143.6,692.0 C144.4,700.3 151.0,711.0 151.0,720.0 C151.0,729.0 144.6,739.0 143.6,746.0 C142.6,753.0 144.9,759.3 145.2,762.0 M377.2,713.0 C376.6,717.0 373.1,728.3 373.9,737.0 C374.7,745.7 381.8,756.5 381.8,765.0 C381.8,773.5 375.1,781.2 373.9,788.0 C372.7,794.8 374.4,802.7 374.5,805.6 M644.3,681.0 C644.2,684.5 641.8,693.5 643.5,702.0 C645.2,710.5 653.8,723.2 654.4,732.0 C655.0,740.8 647.8,749.0 647.2,755.0 C646.6,761.0 650.2,765.7 650.8,767.8" fill="none" stroke="#555555" stroke-width="4.8"/>
    <path d="M30.4,693.6 C34.4,692.2 46.3,687.7 54.3,685.1 C62.4,682.4 70.6,680.0 78.9,677.8 C87.2,675.6 95.5,673.5 103.9,671.8 C112.3,670.1 120.8,668.6 129.3,667.4 C137.8,666.2 146.3,665.2 154.8,664.6 C163.4,664.0 171.9,663.7 180.4,663.7 C188.9,663.7 197.5,664.0 205.9,664.7 C214.4,665.4 222.8,666.5 231.2,667.9 C239.6,669.3 247.9,671.1 256.2,673.1 C264.5,675.0 272.7,677.4 281.0,679.7 C289.2,682.1 297.3,684.8 305.5,687.4 C313.7,690.1 321.8,692.9 329.9,695.6 C338.0,698.3 346.1,701.1 354.3,703.5 C362.5,705.9 370.6,708.3 378.9,710.2 C387.1,712.0 395.5,713.6 403.9,714.6 C412.3,715.7 420.8,716.3 429.3,716.6 C437.8,716.9 446.4,716.8 455.0,716.5 C463.5,716.2 472.2,715.6 480.7,714.9 C489.3,714.2 497.9,713.3 506.4,712.3 C514.9,711.4 523.4,710.4 531.8,709.1 C540.2,707.8 548.6,706.4 556.8,704.5 C565.1,702.6 573.3,700.4 581.3,697.8 C589.4,695.2 597.4,692.0 605.4,688.9 C613.4,685.8 621.3,682.4 629.3,679.5 C637.3,676.6 645.4,673.6 653.6,671.5 C661.8,669.4 670.1,667.8 678.5,666.6 C686.9,665.5 695.5,665.0 704.1,664.6 C712.6,664.3 721.3,664.5 729.8,664.5 C738.4,664.5 751.1,664.5 755.4,664.5" fill="none" stroke="#4e4e4e" stroke-width="14"/>
    <path d="M30.4,693.6 C34.4,692.2 46.3,687.7 54.3,685.1 C62.4,682.4 70.6,680.0 78.9,677.8 C87.2,675.6 95.5,673.5 103.9,671.8 C112.3,670.1 120.8,668.6 129.3,667.4 C137.8,666.2 146.3,665.2 154.8,664.6 C163.4,664.0 171.9,663.7 180.4,663.7 C188.9,663.7 197.5,664.0 205.9,664.7 C214.4,665.4 222.8,666.5 231.2,667.9 C239.6,669.3 247.9,671.1 256.2,673.1 C264.5,675.0 272.7,677.4 281.0,679.7 C289.2,682.1 297.3,684.8 305.5,687.4 C313.7,690.1 321.8,692.9 329.9,695.6 C338.0,698.3 346.1,701.1 354.3,703.5 C362.5,705.9 370.6,708.3 378.9,710.2 C387.1,712.0 395.5,713.6 403.9,714.6 C412.3,715.7 420.8,716.3 429.3,716.6 C437.8,716.9 446.4,716.8 455.0,716.5 C463.5,716.2 472.2,715.6 480.7,714.9 C489.3,714.2 497.9,713.3 506.4,712.3 C514.9,711.4 523.4,710.4 531.8,709.1 C540.2,707.8 548.6,706.4 556.8,704.5 C565.1,702.6 573.3,700.4 581.3,697.8 C589.4,695.2 597.4,692.0 605.4,688.9 C613.4,685.8 621.3,682.4 629.3,679.5 C637.3,676.6 645.4,673.6 653.6,671.5 C661.8,669.4 670.1,667.8 678.5,666.6 C686.9,665.5 695.5,665.0 704.1,664.6 C712.6,664.3 721.3,664.5 729.8,664.5 C738.4,664.5 751.1,664.5 755.4,664.5" fill="none" stroke="#858585" stroke-opacity="0.85" stroke-width="2.8" filter="url(#hblur)" transform="translate(0,-3.2)"/>
  </g>
</defs>
<use href="#poly"/>
<use href="#poly" transform="matrix(0.994,0,0,1,1584.7,-2.5)"/>

<g id="polylabels">
<text transform="translate(223.18,566.20) scale(1,0.9909)" font-size="63.66" font-weight="400" fill="#555555" stroke="#555555" stroke-width="1.2" stroke-linejoin="round">R</text>
<text transform="translate(497.47,614.30) scale(1,0.9636)" font-size="65.01" font-weight="400" fill="#555555" stroke="#555555" stroke-width="1.2" stroke-linejoin="round">R</text>
<text transform="translate(123.09,816.30) scale(1,0.9821)" font-size="64.67" font-weight="400" fill="#555555" stroke="#555555" stroke-width="1.2" stroke-linejoin="round">R</text>
<text transform="translate(354.73,861.20) scale(1,0.9969)" font-size="62.99" font-weight="400" fill="#555555" stroke="#555555" stroke-width="1.2" stroke-linejoin="round">R</text>
<text transform="translate(628.97,825.10) scale(1,0.9681)" font-size="65.01" font-weight="400" fill="#555555" stroke="#555555" stroke-width="1.2" stroke-linejoin="round">R</text>
<text transform="translate(1800.12,556.80) scale(1,0.9844)" font-size="63.19" font-weight="400" fill="#ff3399" stroke="#ff3399" stroke-width="1.2" stroke-linejoin="round">N</text>
<text transform="translate(2076.64,604.90) scale(1,0.9729)" font-size="64.09" font-weight="400" fill="#ff3399" stroke="#ff3399" stroke-width="1.2" stroke-linejoin="round">N</text>
<text transform="translate(1706.12,812.40) scale(1,0.9950)" font-size="61.94" font-weight="400" fill="#ff3399" stroke="#ff3399" stroke-width="1.2" stroke-linejoin="round">N</text>
<text transform="translate(1932.99,855.50) scale(1,0.9583)" font-size="63.55" font-weight="400" fill="#ff3399" stroke="#ff3399" stroke-width="1.2" stroke-linejoin="round">N</text>
<text transform="translate(2209.44,820.90) scale(1,0.9661)" font-size="64.09" font-weight="400" fill="#ff3399" stroke="#ff3399" stroke-width="1.2" stroke-linejoin="round">N</text>
<text transform="translate(1847.40,576.36) scale(1,1.0293)" font-size="34.17" font-weight="400" fill="#ff3399" stroke="#ff3399" stroke-width="1.2" stroke-linejoin="round">3</text>
<text transform="translate(2123.32,623.75) scale(1,1.0613)" font-size="33.54" font-weight="400" fill="#ff3399" stroke="#ff3399" stroke-width="1.2" stroke-linejoin="round">3</text>
<text transform="translate(1752.60,832.05) scale(1,1.0582)" font-size="34.17" font-weight="400" fill="#ff3399" stroke="#ff3399" stroke-width="1.2" stroke-linejoin="round">3</text>
<text transform="translate(1979.64,875.35) scale(1,1.0706)" font-size="33.11" font-weight="400" fill="#ff3399" stroke="#ff3399" stroke-width="1.2" stroke-linejoin="round">3</text>
<text transform="translate(2256.55,840.65) scale(1,1.0946)" font-size="32.90" font-weight="400" fill="#ff3399" stroke="#ff3399" stroke-width="1.2" stroke-linejoin="round">3</text>
</g>
</svg>
</body>
</html>
